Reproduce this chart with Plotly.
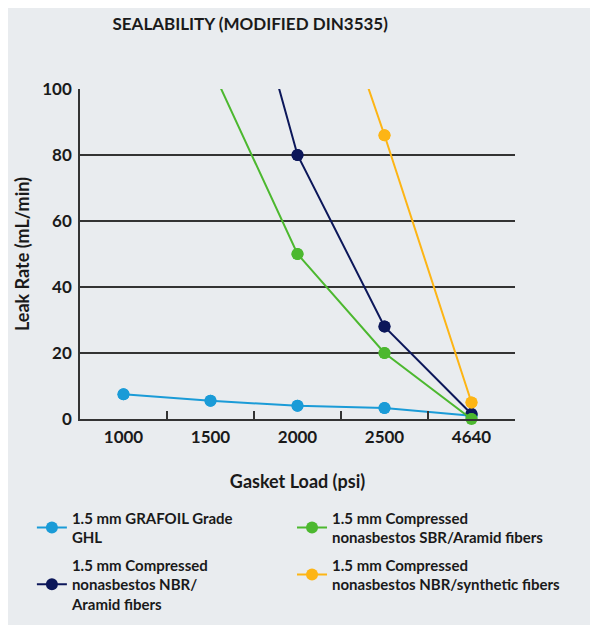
import plotly.graph_objects as go

# ---- data ----
gasket_load = ["1000", "1500", "2000", "2500", "4640"]
grafoil_ghl = [7.5, 5.5, 4.0, 3.3, 1.0]
sbr_aramid = [None, 107, 50, 20, 0]
nbr_aramid = [None, 175, 80, 28, 1.5]
nbr_synthetic = [None, None, 163, 86, 5]
y_ticks = [0, 20, 40, 60, 80, 100]

names = {
    "grafoil": "1.5 mm GRAFOIL Grade<br>GHL",
    "sbr": "1.5 mm Compressed<br>nonasbestos SBR/Aramid fibers",
    "nbr": "1.5 mm Compressed<br>nonasbestos NBR/<br>Aramid fibers",
    "syn": "1.5 mm Compressed<br>nonasbestos NBR/synthetic fibers",
}
colors = {"grafoil": "#1A9BD7", "sbr": "#4CB82F", "nbr": "#0C175A", "syn": "#FDB515"}
values = {"grafoil": grafoil_ghl, "sbr": sbr_aramid, "nbr": nbr_aramid, "syn": nbr_synthetic}
legend_of = {"grafoil": "legend", "nbr": "legend", "sbr": "legend2", "syn": "legend2"}
legend_rank = {"grafoil": 1, "sbr": 1, "nbr": 2, "syn": 2}
draw_order = ["grafoil", "nbr", "syn", "sbr"]

FONT = "Lato"
TXT = "#1a1a1a"
Y_MAX = 100

fig = go.Figure()
for key in draw_order:
    vals = values[key]
    fig.add_trace(go.Scatter(
        x=gasket_load, y=vals, mode="lines+markers", name=names[key],
        line=dict(color=colors[key], width=2),
        marker=dict(color=colors[key], size=12),
        legend=legend_of[key], legendgroup=key, legendrank=legend_rank[key],
        cliponaxis=True,
    ))
    xs = [x for x, v in zip(gasket_load, vals) if v is not None and 0 <= v <= Y_MAX]
    ys = [v for v in vals if v is not None and 0 <= v <= Y_MAX]
    fig.add_trace(go.Scatter(
        x=xs, y=ys, mode="markers", showlegend=False, legendgroup=key,
        marker=dict(color=colors[key], size=12), cliponaxis=False, hoverinfo="skip",
    ))

legend_common = dict(
    orientation="v", xanchor="left", y=-0.25, yanchor="top",
    font=dict(size=15, family=FONT, color=TXT, weight="bold"),
    bgcolor="rgba(0,0,0,0)", tracegroupgap=5,
)

fig.update_layout(
    width=598, height=625,
    paper_bgcolor="#E9ECEF", plot_bgcolor="#E9ECEF",
    margin=dict(l=72, r=91, t=81, b=214),
    font=dict(family=FONT, color=TXT, size=14),
    title=dict(text="<b>SEALABILITY (MODIFIED DIN3535)</b>", x=0.405, xanchor="center",
               y=0.975, yanchor="middle", font=dict(size=17, family=FONT, color=TXT)),
    xaxis=dict(
        type="category", range=[-0.5, 4.5], showgrid=False, automargin=False,
        showline=True, linecolor="#333333", linewidth=1.5,
        ticks="inside", tickson="boundaries", ticklen=8, tickcolor="#333333", tickwidth=1.5,
        ticklabelstandoff=2,
        tickfont=dict(size=17, family=FONT, color=TXT, weight="bold"),
        title=dict(text="<b>Gasket Load (psi)</b>", font=dict(size=18, family=FONT, color=TXT), standoff=29),
    ),
    yaxis=dict(
        range=[0, Y_MAX], tickvals=y_ticks, showgrid=True, gridcolor="#333333", gridwidth=1.5,
        showline=True, linecolor="#333333", linewidth=1.5, zeroline=False, automargin=False,
        ticklabelstandoff=3,
        tickfont=dict(size=17, family=FONT, color=TXT, weight="bold"),
        title=dict(text="<b>Leak Rate (mL/min)</b>", font=dict(size=18, family=FONT, color=TXT), standoff=8),
    ),
    legend=dict(x=-0.1106, **legend_common),
    legend2=dict(x=0.4874, **legend_common),
)

fig.write_html("out.html")
